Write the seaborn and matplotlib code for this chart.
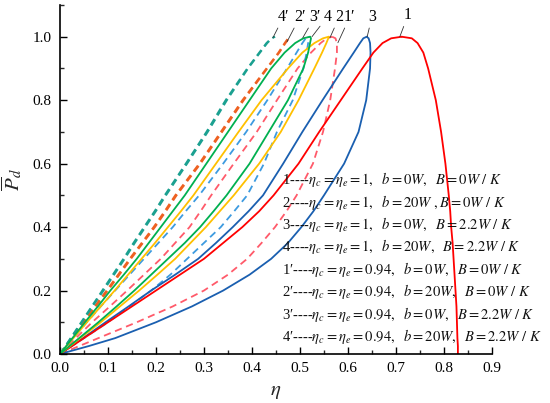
import numpy as np
import pandas as pd
import matplotlib
matplotlib.use("Agg")
import matplotlib.pyplot as plt
import seaborn as sns

# ---------------- data ----------------
P_LEVELS = [0, 0.025, 0.05, 0.1, 0.15, 0.2, 0.25, 0.3, 0.35, 0.4, 0.45, 0.5,
            0.6, 0.7, 0.8, 0.9, 0.95, 0.98, 0.995, 1.0]

# curve 1 (open curve): left rising branch and right falling branch
eta1_up = [0, 0.025, 0.05, 0.1, 0.15, 0.2, 0.25, 0.3, 0.34, 0.38, 0.415, 0.445,
           0.497, 0.54, 0.585, 0.63, 0.653, 0.672, 0.69, 0.712]
eta1_lo = [0.829, 0.829, 0.828, 0.827, 0.826, 0.824, 0.822, 0.82, 0.818, 0.815, 0.813, 0.81,
           0.803, 0.794, 0.783, 0.767, 0.757, 0.745, 0.733, 0.712]
# curve 2
eta2_up = [0, 0.014, 0.028, 0.056, 0.085, 0.114, 0.142, 0.17, 0.198, 0.225, 0.252, 0.278,
           0.325, 0.372, 0.42, 0.475, 0.505, 0.53, 0.548, 0.56]
eta2_lo = [0, 0.021, 0.042, 0.085, 0.125, 0.165, 0.203, 0.24, 0.272, 0.304, 0.333, 0.362,
           0.415, 0.46, 0.497, 0.53, 0.546, 0.555, 0.559, 0.56]
# curve 3
eta3_up = [0, 0.024, 0.048, 0.095, 0.143, 0.19, 0.24, 0.288, 0.325, 0.36, 0.393, 0.423,
           0.465, 0.505, 0.547, 0.59, 0.612, 0.625, 0.632, 0.639]
eta3_lo = [0, 0.06, 0.115, 0.2, 0.275, 0.34, 0.395, 0.44, 0.475, 0.503, 0.528, 0.55,
           0.592, 0.622, 0.638, 0.646, 0.647, 0.646, 0.643, 0.639]
# curve 4
eta4_up = [0, 0.013, 0.026, 0.052, 0.079, 0.105, 0.133, 0.16, 0.185, 0.21, 0.235, 0.26,
           0.305, 0.35, 0.395, 0.44, 0.468, 0.49, 0.507, 0.521]
eta4_lo = [0, 0.02, 0.04, 0.08, 0.118, 0.155, 0.19, 0.225, 0.26, 0.292, 0.32, 0.347,
           0.395, 0.435, 0.475, 0.507, 0.517, 0.521, 0.523, 0.521]
# curve 1'
eta1p_up = [0, 0.017, 0.033, 0.067, 0.104, 0.14, 0.175, 0.21, 0.24, 0.27, 0.293, 0.315,
            0.362, 0.41, 0.452, 0.495, 0.523, 0.543, 0.556, 0.567]
eta1p_lo = [0, 0.04, 0.08, 0.16, 0.235, 0.3, 0.35, 0.39, 0.42, 0.448, 0.472, 0.493,
            0.527, 0.548, 0.563, 0.573, 0.577, 0.577, 0.574, 0.567]
# curve 2'
eta2p_up = [0, 0.012, 0.024, 0.048, 0.072, 0.097, 0.121, 0.145, 0.17, 0.195, 0.218, 0.24,
            0.29, 0.335, 0.38, 0.43, 0.455, 0.468, 0.475, 0.48]
eta2p_lo = [0, 0.0125, 0.025, 0.05, 0.075, 0.1, 0.124, 0.148, 0.173, 0.198, 0.221, 0.243,
            0.293, 0.338, 0.383, 0.432, 0.457, 0.47, 0.477, 0.48]
# curve 3'
eta3p_up = [0, 0.014, 0.028, 0.056, 0.085, 0.115, 0.145, 0.175, 0.205, 0.235, 0.262, 0.29,
            0.34, 0.388, 0.432, 0.473, 0.493, 0.505, 0.512, 0.516]
eta3p_lo = [0, 0.025, 0.05, 0.1, 0.145, 0.19, 0.23, 0.265, 0.3, 0.335, 0.363, 0.39,
            0.425, 0.452, 0.485, 0.507, 0.514, 0.517, 0.518, 0.516]
# curve 4'
eta4p_up = [0, 0.011, 0.022, 0.044, 0.066, 0.088, 0.11, 0.132, 0.153, 0.175, 0.197, 0.218,
            0.262, 0.305, 0.345, 0.39, 0.415, 0.43, 0.44, 0.448]
eta4p_lo = [0, 0.0115, 0.023, 0.046, 0.068, 0.091, 0.113, 0.135, 0.156, 0.178, 0.2, 0.221,
            0.265, 0.308, 0.348, 0.392, 0.417, 0.432, 0.442, 0.448]

legend_lines = [
    "1----$\\eta_c=\\eta_e=1,\\ \\ b=0W,\\ \\ B=0W\\ /\\ K$",
    "2----$\\eta_c=\\eta_e=1,\\ \\ b=20W\\ ,B=0W\\ /\\ K$",
    "3----$\\eta_c=\\eta_e=1,\\ \\ b=0W,\\ \\ B=2.2W\\ /\\ K$",
    "4----$\\eta_c=\\eta_e=1,\\ \\ b=20W,\\ \\ B=2.2W\\ /\\ K$",
    "1\u2032----$\\eta_c=\\eta_e=0.94,\\ \\ b=0W,\\ \\ B=0W\\ /\\ K$",
    "2\u2032----$\\eta_c=\\eta_e=0.94,\\ \\ b=20W,\\ \\ B=0W\\ /\\ K$",
    "3\u2032----$\\eta_c=\\eta_e=0.94,\\ \\ b=0W,\\ \\ B=2.2W\\ /\\ K$",
    "4\u2032----$\\eta_c=\\eta_e=0.94,\\ \\ b=20W,\\ \\ B=2.2W\\ /\\ K$",
]
x_ticks = [0.0, 0.1, 0.2, 0.3, 0.4, 0.5, 0.6, 0.7, 0.8, 0.9]
y_ticks = [0.0, 0.2, 0.4, 0.6, 0.8, 1.0]

# ---------------- style ----------------
sns.set_theme(style="ticks")
plt.rcParams["font.family"] = ["Liberation Serif", "DejaVu Serif"]
plt.rcParams["mathtext.fontset"] = "stix"

fig = plt.figure(figsize=(5.5, 4.03), dpi=100)
ax = fig.add_axes([0.109, 0.1216, 0.7855, 0.866])

branches = {
    "1": (eta1_up, eta1_lo), "2": (eta2_up, eta2_lo),
    "3": (eta3_up, eta3_lo), "4": (eta4_up, eta4_lo),
    "1'": (eta1p_up, eta1p_lo), "2'": (eta2p_up, eta2p_lo),
    "3'": (eta3p_up, eta3p_lo), "4'": (eta4p_up, eta4p_lo),
}
styles = {
    "1": ("#ff0000", "-"), "2": ("#ffc000", "-"), "3": ("#1a5fb0", "-"), "4": ("#00b050", "-"),
    "1'": ("#ff5a6a", "--"), "2'": ("#ee6020", "--"), "3'": ("#3d9be0", "--"), "4'": ("#1aa090", "--"),
}
order = ["1'", "3'", "2'", "4'", "3", "1", "2", "4"]
for name in order:
    col, ls = styles[name]
    # each branch drawn from the bottom (P = 0) up to the peak
    for branch in branches[name]:
        df = pd.DataFrame({"eta": list(branch), "P": list(P_LEVELS)})
        sns.lineplot(data=df, x="eta", y="P", sort=False, estimator=None, ax=ax,
                     color=col, linewidth=1.3, linestyle=ls)
        if ls == "--":
            ax.lines[-1].set_dashes((4.0, 2.6))

# curve labels with leader lines (data coordinates of tips & text)
label_pos = {
    "4'": ((0.4437, 0.997), (0.466, 1.063)),
    "2'": ((0.473, 0.984), (0.500, 1.063)),
    "3'": ((0.506, 0.997), (0.531, 1.063)),
    "4": ((0.525, 1.0), (0.557, 1.063)),
    "2": ((0.5625, 0.997), (0.582, 1.063)),
    "1'": ((0.579, 0.981), (0.604, 1.063)),
    "3": ((0.640, 1.0), (0.650, 1.063)),
    "1": ((0.708, 1.0), (0.725, 1.068)),
}
for name, (tip, txt) in label_pos.items():
    ax.annotate(name.replace("'", "\u2032"), xy=tip, xytext=txt, ha="center", va="center",
                fontsize=11.5, color="black",
                arrowprops=dict(arrowstyle="-", color="#333333", lw=0.6, shrinkA=0, shrinkB=0))

for i, s in enumerate(legend_lines):
    ax.text(0.462, 0.549 - i * 0.0705, s, fontsize=10.5, va="center", ha="left", color="#111111")

ax.set_xlim(0, 0.9)
ax.set_ylim(0, 1.1)
ax.set_xticks(x_ticks)
ax.set_xticklabels([f"{v:.1f}" for v in x_ticks])
ax.set_yticks(y_ticks)
ax.set_yticklabels([f"{v:.1f}" for v in y_ticks])
ax.set_xticks(np.arange(0.05, 0.9, 0.1), minor=True)
ax.set_yticks(np.arange(0.1, 1.15, 0.2), minor=True)
ax.tick_params(axis="both", which="major", direction="in", length=5, width=1, labelsize=11, pad=6, colors="black")
ax.tick_params(axis="both", which="minor", direction="in", length=3, width=1)
for sp in ["top", "right"]:
    ax.spines[sp].set_visible(False)
for sp in ["left", "bottom"]:
    ax.spines[sp].set_linewidth(1.2)
    ax.spines[sp].set_color("black")

ax.set_xlabel("$\\eta$", fontsize=15, labelpad=5)
ax.set_ylabel("$\\overline{P}_d$", fontsize=15, labelpad=6)

fig.savefig("out.png", dpi=100)
